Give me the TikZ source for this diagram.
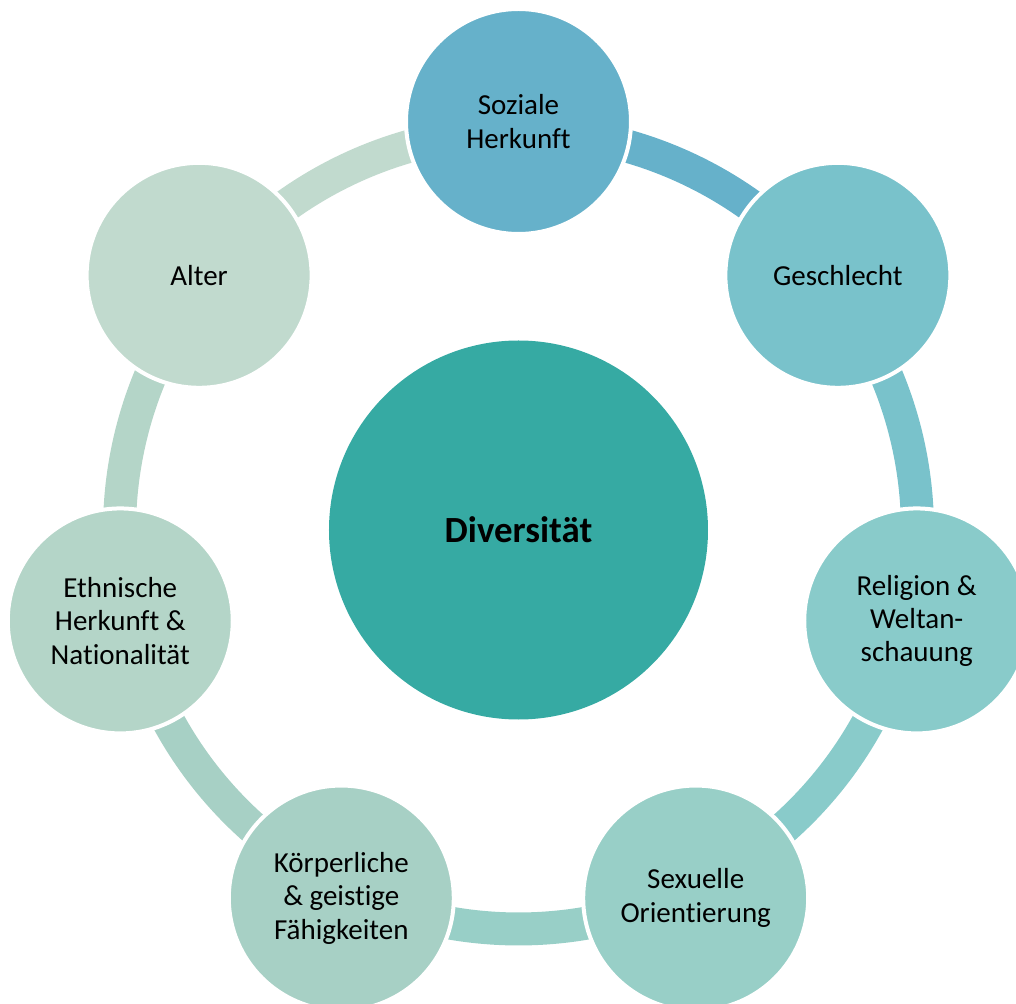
\documentclass[tikz,border=0pt]{standalone}
\usepackage{fontspec}
\setmainfont{Carlito}[Ligatures = NoCommon]

\definecolor{cDiv}{HTML}{36AAA3}
\definecolor{cSoz}{HTML}{66B1CA}
\definecolor{cGes}{HTML}{79C2CB}
\definecolor{cRel}{HTML}{89CBCA}
\definecolor{cSex}{HTML}{98CFC7}
\definecolor{cKoe}{HTML}{A7D0C5}
\definecolor{cEth}{HTML}{B4D5C8}
\definecolor{cAlt}{HTML}{C1DACE}

\begin{document}
\begin{tikzpicture}[topic/.style = {circle, draw = white, line width = 0.08cm, minimum size = 4.5cm, inner sep = 0pt, align = center, font = \fontsize{16.5}{19}\selectfont}, ring/.style = {line width = 0.66cm}]
        \clip (-10.37, -9.46) rectangle (9.95, 10.6);
        \node[circle, fill = cDiv, minimum size = 7.58cm, inner sep = 0pt, font = \fontsize{21}{25}\selectfont\bfseries] (div) at (0, 0) {Diversit\"at};
        % ring pieces, each in the colour of the circle it leaves
        \draw[ring, cSoz] (div.center) ++(90:7.98) arc[start angle = 90, end angle = 38.57, radius = 7.98];
        \draw[ring, cGes] (div.center) ++(38.57:7.98) arc[start angle = 38.57, end angle = -12.86, radius = 7.98];
        \draw[ring, cRel] (div.center) ++(-12.86:7.98) arc[start angle = -12.86, end angle = -64.29, radius = 7.98];
        \draw[ring, cSex] (div.center) ++(-64.29:7.98) arc[start angle = -64.29, end angle = -115.71, radius = 7.98];
        \draw[ring, cKoe] (div.center) ++(-115.71:7.98) arc[start angle = -115.71, end angle = -167.14, radius = 7.98];
        \draw[ring, cEth] (div.center) ++(-167.14:7.98) arc[start angle = -167.14, end angle = -218.57, radius = 7.98];
        \draw[ring, cAlt] (div.center) ++(141.43:7.98) arc[start angle = 141.43, end angle = 90, radius = 7.98];
        % the seven circles
        \node[topic, fill = cSoz] (soz) at (90:8.17) {Soziale\\Herkunft};
        \node[topic, fill = cGes] (ges) at (38.57:8.17) {Geschlecht};
        \node[topic, fill = cRel] (rel) at (-12.86:8.17) {Religion \&\\Weltan-\\schauung};
        \node[topic, fill = cSex] (sex) at (-64.29:8.17) {Sexuelle\\Orientierung};
        \node[topic, fill = cKoe] (koe) at (-115.71:8.17) {K\"orperliche\\\& geistige\\F\"ahigkeiten};
        \node[topic, fill = cEth] (eth) at (-167.14:8.17) {Ethnische\\Herkunft \&\\Nationalit\"at};
        \node[topic, fill = cAlt] (alt) at (141.43:8.17) {Alter};
      \end{tikzpicture}
\end{document}
